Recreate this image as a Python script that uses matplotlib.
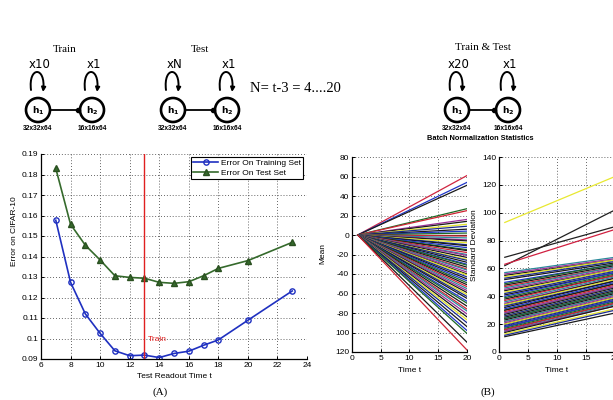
import matplotlib
matplotlib.use("Agg")
import matplotlib.pyplot as plt
import matplotlib.ticker as ticker
from matplotlib.patches import Circle, FancyArrowPatch
from matplotlib.path import Path

plt.rcParams['font.family'] = ['Liberation Sans', 'DejaVu Sans']

# データ (A): エラー率
READOUT_T = [7, 8, 9, 10, 11, 12, 13, 14, 15, 16, 17, 18, 20, 23]
ERR_TRAIN = [0.1577, 0.1274, 0.1120, 0.1025, 0.0940, 0.0916, 0.0919, 0.0907,
             0.0927, 0.0938, 0.0967, 0.0993, 0.1089, 0.1232]
ERR_TEST = [0.1830, 0.1557, 0.1455, 0.1383, 0.1306, 0.1298, 0.1294, 0.1274,
            0.1269, 0.1277, 0.1306, 0.1342, 0.1380, 0.1469]
TRAIN_T = 13

# データ (B): BN統計量 (64チャネル, t=1 -> t=20)
T_START, T_END = 1, 20
MEAN_END = [61, 54, 51, 27, 25, 16, 14, 11, 9, 6, 4, 2, 0, -1, -3, -5,
            -6, -8, -10, -11, -13, -15, -16, -18, -20, -21, -23, -25, -26, -28, -30, -31,
            -33, -35, -36, -38, -40, -41, -43, -45, -47, -49, -51, -53, -55, -57, -59, -61,
            -63, -65, -68, -70, -73, -76, -78, -81, -84, -87, -90, -94, -98, -101, -110, -118]
MEAN_COLORS = ['#d02540', '#1f35c8', '#1a1a1a', '#1d6a25', '#d02535']
STD_START = [93, 62, 68, 63,
             57, 56, 55, 54, 53, 52, 50, 49, 48, 47, 46, 45, 44, 43, 42, 41,
             40, 39, 38, 37, 36, 35, 34, 34, 33, 32, 31, 30, 30, 29, 28, 28,
             27, 26, 26, 25, 24, 24, 23, 22, 22, 21, 20, 20, 19, 18, 18, 17,
             16, 16, 15, 15, 14, 13, 12, 11]
STD_END = [126, 102, 90, 88,
           68, 67, 66, 66, 65, 64, 63, 63, 62, 61, 61, 60, 59, 59, 58, 57,
           57, 56, 55, 55, 54, 53, 53, 52, 51, 51, 50, 49, 49, 48, 47, 47,
           46, 45, 45, 44, 43, 43, 42, 41, 41, 40, 39, 39, 38, 37, 37, 36,
           35, 35, 34, 33, 33, 31, 30, 28]
STD_COLORS = ['#e8e830', '#202020', '#202020', '#d02040']

MEAN_YTICKS = [80, 60, 40, 20, 0, -20, -40, -60, -80, -100, -120]
MEAN_YLABELS = ['80', '60', '40', '20', '0', '-20', '-40', '-60', '-80', '100', '120']

CYCLE = ['#1f35c8', '#1d6a25', '#1a1a1a', '#d02535', '#2a8a9a', '#9a3098',
         '#1a1a1a', '#e2e22a', '#1a2a90', '#1a1a1a']

W, H = 613, 400
fig = plt.figure(figsize=(W / 100, H / 100), dpi=100)


def px_axes(left, top, right, bottom):
    return fig.add_axes([left / W, 1 - bottom / H, (right - left) / W, (bottom - top) / H])


def matlab_style(ax):
    ax.tick_params(direction='in', length=2.5, width=0.7, labelsize=6, pad=2,
                   top=False, right=False)
    ax.grid(True, color='#333333', linestyle=(0, (1, 2.5)), linewidth=0.6)
    ax.spines['top'].set_visible(False)
    ax.spines['right'].set_visible(False)
    ax.spines['left'].set_linewidth(0.9)
    ax.spines['bottom'].set_linewidth(0.9)


# (A) エラー率のプロット
ax1 = px_axes(41, 154, 307, 359)
ax1.plot(READOUT_T, ERR_TRAIN, '-o', color='#1f30c0', lw=1.2, ms=3.8,
         mfc='none', mew=1.0, label='Error On Training Set')
ax1.plot(READOUT_T, ERR_TEST, '-^', color='#356a2c', lw=1.2, ms=3.8,
         mfc='#356a2c', mec='#2a5020', label='Error On Test Set')
ax1.axvline(TRAIN_T, color='#e02020', lw=1.0)
ax1.text(TRAIN_T + 0.2, 0.0993, 'Train', color='#e02020', fontsize=6, va='center')
ax1.set_xlim(6, 24)
ax1.set_ylim(0.09, 0.19)
ax1.set_xticks(range(6, 25, 2))
ax1.set_yticks([0.09 + 0.01 * i for i in range(11)])
ax1.yaxis.set_major_formatter(ticker.FuncFormatter(lambda v, p: ('%.2f' % v).rstrip('0')))
matlab_style(ax1)
leg = ax1.legend(loc='upper right', bbox_to_anchor=(0.985, 0.985), fontsize=6,
                 fancybox=False, edgecolor='black', framealpha=1, handlelength=3,
                 borderpad=0.3, labelspacing=0.2, handletextpad=0.3, borderaxespad=0)
leg.get_frame().set_linewidth(0.8)

# (B) 平均
ax2 = px_axes(352, 157, 467, 352)
for i, e in enumerate(MEAN_END):
    c = MEAN_COLORS[i] if i < len(MEAN_COLORS) else CYCLE[i % len(CYCLE)]
    ax2.plot([T_START, T_END], [0, e], color=c, lw=0.9)
ax2.set_xlim(0, 20)
ax2.set_ylim(-120, 80)
ax2.set_xticks([0, 5, 10, 15, 20])
ax2.set_yticks(MEAN_YTICKS)
ax2.set_yticklabels(MEAN_YLABELS)
matlab_style(ax2)

# (B) 標準偏差
ax3 = px_axes(499, 157, 615, 352)
for i, (s, e) in enumerate(zip(STD_START, STD_END)):
    c = STD_COLORS[i] if i < len(STD_COLORS) else CYCLE[i % len(CYCLE)]
    ax3.plot([T_START, T_END], [s, e], color=c, lw=0.9)
ax3.set_xlim(0, 20)
ax3.set_ylim(0, 140)
ax3.set_xticks([0, 5, 10, 15, 20])
ax3.set_yticks(range(0, 141, 20))
matlab_style(ax3)

# 上部の図とラベル（ピクセル座標のオーバーレイ）
ov = fig.add_axes([0, 0, 1, 1], zorder=10)
ov.set_xlim(0, W)
ov.set_ylim(H, 0)
ov.axis('off')
ov.patch.set_alpha(0)

SERIF = ['Liberation Serif', 'DejaVu Serif']


def node(cx, cy, sub, size, rep):
    ov.add_patch(Circle((cx, cy), 12, fill=False, lw=1.9, color='black'))
    ov.text(cx, cy + 1, r'$\mathbf{h_%s}$' % sub, ha='center', va='center', fontsize=6.5)
    ov.text(cx, cy + 18, size, ha='center', va='center', fontsize=4.8, fontweight='bold')
    loop = Path([(cx - 7, cy - 20), (cx - 10, cy - 44), (cx + 8, cy - 44), (cx + 5, cy - 18)],
                [Path.MOVETO, Path.CURVE4, Path.CURVE4, Path.CURVE4])
    ov.add_patch(FancyArrowPatch(path=loop, arrowstyle='-|>', mutation_scale=6,
                                 lw=1.4, color='black'))
    ov.text(cx + 2, cy - 46, rep, ha='center', va='center', fontsize=8.5,
            family=['DejaVu Sans'])


def diagram(x1, x2, cy, title, ty, rep1):
    node(x1, cy, '1', '32x32x64', rep1)
    node(x2, cy, '2', '16x16x64', 'x1')
    ov.plot([x1 + 13, x2 - 14], [cy, cy], color='black', lw=1.3)
    ov.plot([x2 - 14], [cy], 'o', color='black', ms=3)
    ov.text((x1 + x2) / 2, ty, title, ha='center', va='center', fontsize=8, family=SERIF)


diagram(38, 92, 110, 'Train', 50, 'x10')
diagram(173, 227, 110, 'Test', 50, 'xN')
diagram(457, 508, 110, 'Train & Test', 48, 'x20')
ov.text(250, 88, 'N= t-3 = 4....20', ha='left', va='center', fontsize=10.5, family=SERIF)
ov.text(480, 138, 'Batch Normalization Statistics', ha='center', va='center',
        fontsize=5.3, fontweight='bold')

# 軸ラベル
ov.text(15, 231, 'Error on CIFAR-10', rotation=90, ha='center', va='center', fontsize=6)
ov.text(174, 377, 'Test Readout Time t', ha='center', va='center', fontsize=6)
ov.text(323, 253, 'Mean', rotation=90, ha='center', va='center', fontsize=6)
ov.text(410, 371, 'Time t', ha='center', va='center', fontsize=6)
ov.text(474, 245, 'Standard Deviation', rotation=90, ha='center', va='center', fontsize=6)
ov.text(557, 371, 'Time t', ha='center', va='center', fontsize=6)
ov.text(160, 392, '(A)', ha='center', va='center', fontsize=8, family=SERIF)
ov.text(488, 392, '(B)', ha='center', va='center', fontsize=8, family=SERIF)

fig.savefig('out.png', dpi=100)
